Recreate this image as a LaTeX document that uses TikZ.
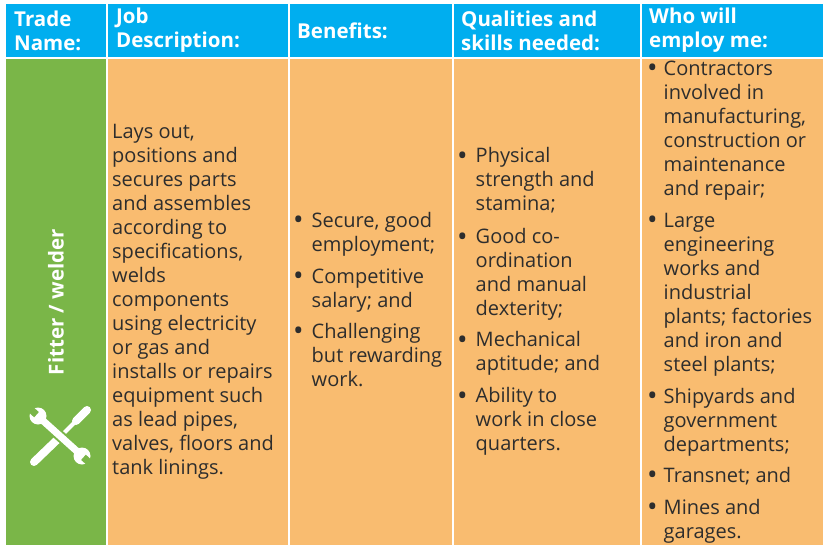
\documentclass[tikz,border=0pt]{standalone}
\usepackage{fontspec}
\setmainfont{Open Sans}
\usetikzlibrary{positioning}
\definecolor{headblue}{RGB}{0,174,239}
\definecolor{tradegreen}{RGB}{122,182,72}
\definecolor{cellorange}{RGB}{249,188,112}
\definecolor{bodygray}{RGB}{45,45,45}
\tikzstyle{headcell} = [rectangle, fill=headblue, draw=white, line width=1.5pt, minimum height=55pt, inner sep=0pt, outer sep=0pt]
\tikzstyle{bodycell} = [rectangle, fill=cellorange, draw=white, line width=1.5pt, minimum height=488pt, inner sep=0pt, outer sep=0pt]
\tikzstyle{headtext} = [text=white, font=\fontsize{20.5}{24}\selectfont\bfseries, align=left, inner sep=0pt]
\tikzstyle{bodytext} = [text=bodygray, font=\fontsize{20}{24}\selectfont, align=left, inner sep=0pt]
\tikzstyle{bodylist} = [text=bodygray, font=\fontsize{20}{24}\selectfont, inner sep=0pt]
\tikzstyle{iconline} = [white, line cap=round]
\newcommand{\bul}{\raisebox{-2.2pt}{\scalebox{1.4}{\textbullet}}}

\begin{document}
\begin{tikzpicture}[x=1pt, y=-1pt]
\useasboundingbox (0,0) rectangle (829,545);
\clip (0,0) rectangle (829,545);

% Header cells
\node (tradehead) [headcell, minimum width=102pt, anchor=north west] at (5,3) {};
\node (deschead) [headcell, minimum width=182pt, right=0pt of tradehead] {};
\node (benefithead) [headcell, minimum width=164pt, right=0pt of deschead] {};
\node (skillhead) [headcell, minimum width=188pt, right=0pt of benefithead] {};
\node (employhead) [headcell, minimum width=183pt, right=0pt of skillhead] {};

% Body cells
\node (tradebody) [bodycell, fill=tradegreen, minimum width=102pt, below=0pt of tradehead] {};
\node (descbody) [bodycell, minimum width=182pt, below=0pt of deschead] {};
\node (benefitbody) [bodycell, minimum width=164pt, below=0pt of benefithead] {};
\node (skillbody) [bodycell, minimum width=188pt, below=0pt of skillhead] {};
\node (employbody) [bodycell, minimum width=183pt, below=0pt of employhead] {};

% Header texts
\node (tradetitle) [headtext, right=9pt of tradehead.west] {Trade\\Name:};
\node (desctitle) [headtext, right=9pt of deschead.west] {Job\\Description:};
\node (benefittitle) [headtext, right=8pt of benefithead.west] {Benefits:};
\node (skilltitle) [headtext, right=8pt of skillhead.west] {Qualities and\\skills needed:};
\node (employtitle) [headtext, right=8pt of employhead.west] {Who will\\employ me:};

% Trade name
\node (tradename) [headtext, rotate=90] at (tradebody.center) {Fitter / welder};

% Body texts
\node (desctext) [bodytext, right=5pt of descbody.west] {Lays out,\\positions and\\secures parts\\and assembles\\according to\\specifications,\\welds\\components\\using electricity\\or gas and\\installs or repairs\\equipment such\\as lead pipes,\\valves, floors and\\tank linings.};

\node (benefittext) [bodylist, right=4pt of benefitbody.west] {\begin{tabular}{@{}l@{\hspace{8pt}}l@{}}
\bul & Secure, good\\ & employment;\\[8pt]
\bul & Competitive\\ & salary; and\\[7pt]
\bul & Challenging\\ & but rewarding\\ & work.
\end{tabular}};

\node (skilltext) [bodylist, right=4pt of skillbody.west] {\begin{tabular}{@{}l@{\hspace{8pt}}l@{}}
\bul & Physical\\ & strength and\\ & stamina;\\[9pt]
\bul & Good co-\\ & ordination\\ & and manual\\ & dexterity;\\[7pt]
\bul & Mechanical\\ & aptitude; and\\[8pt]
\bul & Ability to\\ & work in close\\ & quarters.
\end{tabular}};

\node (employtext) [bodylist, right=6pt of employbody.west] {\begin{tabular}{@{}l@{\hspace{6pt}}l@{}}
\bul & Contractors\\ & involved in\\ & manufacturing,\\ & construction or\\ & maintenance\\ & and repair;\\[8pt]
\bul & Large\\ & engineering\\ & works and\\ & industrial\\ & plants; factories\\ & and iron and\\ & steel plants;\\[8pt]
\bul & Shipyards and\\ & government\\ & departments;\\[7pt]
\bul & Transnet; and\\[8pt]
\bul & Mines and\\ & garages.
\end{tabular}};

% Icon
\draw [iconline, line width=8pt] (34,462) -- (60,437);
\draw [iconline, line width=4pt] (60,437) -- (76,421);
\draw [iconline, line width=8pt] (76,421) -- (87,410);
\draw [tradegreen, line width=11pt] (44,422) -- (76,450);
\draw [iconline, line width=7pt] (40,418) -- (80,454);
\fill [white] (38,416) circle (8.5pt);
\fill [white] (82,456) circle (8.5pt);
\fill [tradegreen, rotate around={-42:(38,416)}] (38,416) ++(-12,-3.5) rectangle ++(10,7);
\fill [tradegreen, rotate around={-42:(82,456)}] (82,456) ++(2,-3.5) rectangle ++(10,7);

\end{tikzpicture}
\end{document}
